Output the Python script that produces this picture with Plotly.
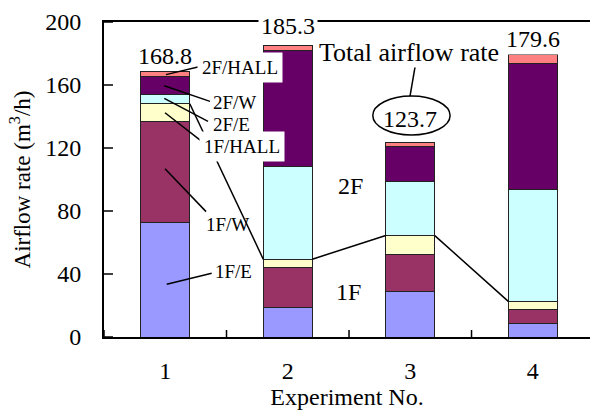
import plotly.graph_objects as go

# ---- data ----
experiments = [1, 2, 3, 4]
exp_labels = ["1", "2", "3", "4"]
f1_E = [72.8, 18.8, 28.9, 8.7]
f1_W = [63.9, 25.3, 23.2, 9.0]
f1_HALL = [11.4, 5.3, 12.3, 4.9]
f2_E = [5.9, 58.6, 34.1, 71.1]
f2_W = [11.6, 73.6, 22.4, 79.7]
f2_HALL = [3.2, 3.7, 2.8, 6.2]
totals = [168.8, 185.3, 123.7, 179.6]
y_ticks = [0, 40, 80, 120, 160, 200]

series = [
    ("1F/E", f1_E, "#9999ff"),
    ("1F/W", f1_W, "#993366"),
    ("1F/HALL", f1_HALL, "#ffffcc"),
    ("2F/E", f2_E, "#ccffff"),
    ("2F/W", f2_W, "#660066"),
    ("2F/HALL", f2_HALL, "#ff8080"),
]

FONT = "'Liberation Serif', 'Times New Roman', serif"
BW = 0.4

fig = go.Figure()
for name, vals, col in series:
    fig.add_trace(go.Bar(
        x=experiments, y=vals, name=name, width=BW,
        marker=dict(color=col, line=dict(color="#222222", width=1)),
        showlegend=False, hoverinfo="skip"))

shapes = []
# axis tick marks crossing the axes
for v in y_ticks:
    shapes.append(dict(type="line", xref="x", yref="y", xsizemode="pixel",
                       xanchor=0.5, x0=-7, x1=9, y0=v, y1=v,
                       line=dict(color="black", width=1.5)))
for v in [0.5, 1.5, 2.5, 3.5]:
    shapes.append(dict(type="line", xref="x", yref="y", ysizemode="pixel",
                       yanchor=0, y0=-8, y1=7, x0=v, x1=v,
                       line=dict(color="black", width=1.5)))

# 1F / 2F divider lines between bars
cum1F = [a + b + c for a, b, c in zip(f1_E, f1_W, f1_HALL)]
for i in range(len(experiments) - 1):
    shapes.append(dict(type="line", xref="x", yref="y",
                       x0=experiments[i] + BW / 2, y0=cum1F[i],
                       x1=experiments[i + 1] - BW / 2, y1=cum1F[i + 1],
                       line=dict(color="black", width=1.5)))

# leader lines for bar-1 labels
leaders = [
    (1.006, 166.6, 1.284, 171.7),
    (0.992, 159.5, 1.365, 149.6),
    (0.992, 151.5, 1.349, 136.9),
    (0.998, 142.4, 1.298, 124.2),
    (0.998, 106.8, 1.333, 79.6),
    (1.012, 33.5, 1.379, 40.5),
    (3.039, 171.5, 2.998, 153.0),
]
for x0, y0, x1, y1 in leaders:
    shapes.append(dict(type="line", xref="x", yref="y", x0=x0, y0=y0, x1=x1, y1=y1,
                       line=dict(color="black", width=1.5)))

# ellipse around 123.7
shapes.append(dict(type="circle", xref="x", yref="y", x0=2.694, x1=3.325,
                   y0=128.3, y1=153.0, fillcolor="rgba(255,255,255,0)",
                   layer="above", line=dict(color="black", width=1.5)))

fig.update_layout(shapes=shapes)

ann = []
big = dict(family=FONT, size=24, color="black")
small = dict(family=FONT, size=19, color="black")

# label centres (value units) for the total figures
total_label_y = [178.5, 197.5, 138.5, 189.5]
total_bg = [None, "white", None, "white"]
for x, t, ly, bg in zip(experiments, totals, total_label_y, total_bg):
    a = dict(x=x, y=ly, text=f"{t:.1f}", showarrow=False,
             xanchor="center", yanchor="middle", font=big, borderpad=2)
    if bg:
        a["bgcolor"] = bg
    ann.append(a)

ann.append(dict(x=2.987, y=180.4, text="Total airflow rate", showarrow=False,
                font=dict(family=FONT, size=26, color="black"),
                bgcolor="white", borderpad=0))
ann.append(dict(x=2.508, y=95.6, text="2F", showarrow=False, font=big))
ann.append(dict(x=2.492, y=28.5, text="1F", showarrow=False, font=big))

labels = [
    ("2F/HALL", 1.614, 170.9, True),
    ("2F/W", 1.569, 148.7, False),
    ("2F/E", 1.541, 134.8, False),
    ("1F/HALL", 1.627, 120.9, True),
    ("1F/W", 1.508, 71.5, False),
    ("1F/E", 1.561, 41.8, False),
]
for txt, x, y, bg in labels:
    a = dict(x=x, y=y, text=txt, showarrow=False, font=small, borderpad=4)
    if bg:
        a["bgcolor"] = "white"
    ann.append(a)

fig.update_layout(
    annotations=ann,
    barmode="stack",
    width=592, height=419,
    margin=dict(l=104, r=2, t=22, b=82),
    paper_bgcolor="white", plot_bgcolor="white",
    font=dict(family=FONT, size=24, color="black"),
    xaxis=dict(range=[0.5, 4.467], tickvals=experiments, ticktext=exp_labels,
               ticks="", showgrid=False, zeroline=False,
               showline=True, mirror=True, linecolor="black", linewidth=2,
               ticklabelstandoff=11,
               title=dict(text="Experiment No.", standoff=4,
                          font=dict(family=FONT, size=24)),
               tickfont=dict(family=FONT, size=24)),
    yaxis=dict(range=[0, 200], tickvals=y_ticks, ticks="", showgrid=False,
               zeroline=False, showline=True, linecolor="black", linewidth=2,
               ticklabelstandoff=16,
               title=dict(text="Airflow rate (m<sup>3</sup>/h)", standoff=8,
                          font=dict(family=FONT, size=23)),
               tickfont=dict(family=FONT, size=24)),
)

fig.write_html("out.html")
